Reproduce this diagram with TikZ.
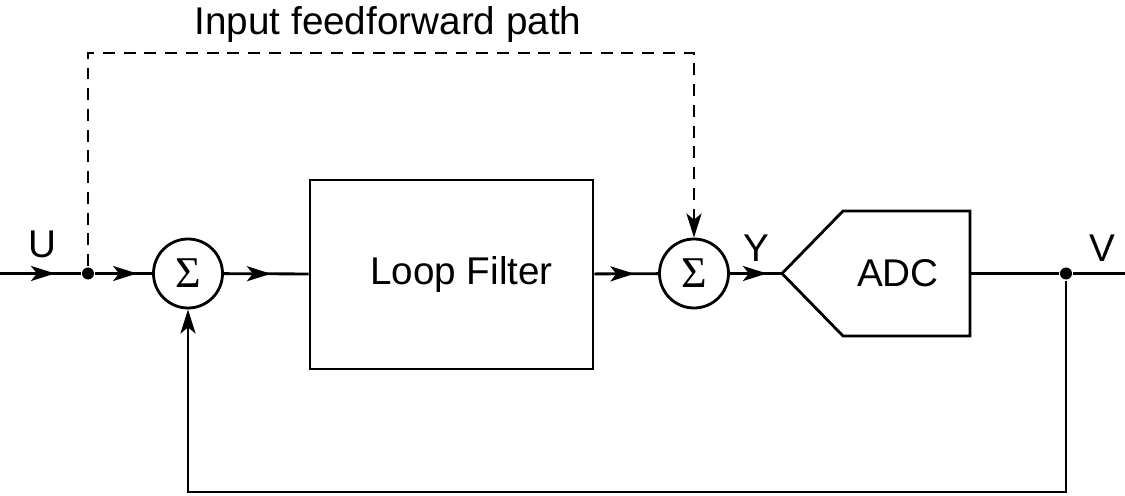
\documentclass[tikz,border=0pt]{standalone}
\usepackage{fontspec}
\setmainfont{Liberation Sans}
\newfontfamily\sigmafont{Liberation Serif}
\usetikzlibrary{arrows.meta,positioning,calc,decorations.markings}

\begin{document}
\begin{tikzpicture}[>={Stealth[length=0.48cm,width=0.3cm,inset=0.12cm]},line width=1.6pt,font=\fontsize{22}{26}\selectfont,
  midarrow/.style={postaction={decorate},decoration={markings,mark=at position #1 with {\arrow{>}}}}]
\tikzstyle{sumnode}=[draw,circle,minimum size=1.38cm,inner sep=0pt,font=\sigmafont\fontsize{25}{28}\selectfont]
\tikzstyle{blk}=[draw,minimum width=5.66cm,minimum height=3.78cm]
\tikzstyle{dot}=[circle,fill,inner sep=0pt,minimum size=0.24cm]
\tikzstyle{lbl}=[anchor=base,inner sep=0pt]
\useasboundingbox (0,0) rectangle (22.5,9.9);
\coordinate (uin) at (0,4.43);
\node[dot] (udot) at (1.76,4.43) {};
\node[sumnode] (s1) at (3.76,4.43) {Σ};
\node[blk] (lf) at (9.03,4.41) {\hspace*{0.4cm}Loop Filter};
\node[sumnode] (s2) at (13.88,4.43) {Σ};
\coordinate (adcin) at (15.64,4.43);
\coordinate (adcout) at (19.4,4.43);
\node (adc) at (17.96,4.43) {ADC};
\draw (adcin) -- (16.86,5.68) -- (19.4,5.68) -- (19.4,3.18) -- (16.86,3.18) -- cycle;
\node[dot] (vdot) at (21.32,4.43) {};
\coordinate (vout) at (22.5,4.43);
\coordinate (fb) at (11,0.06);
\coordinate (ff) at (8,8.84);
% labels
\node[lbl] (ulbl) at (0.84,4.74) {U};
\node[lbl] (ylbl) at (15.12,4.66) {Y};
\node[lbl] (vlbl) at (22.04,4.66) {V};
\node[lbl] (fflbl) at (7.76,9.2) {Input feedforward path};
% forward path
\draw[midarrow=1.1cm] (uin) -- (udot);
\draw[midarrow=-0.3cm] (udot) -- (s1);
\draw[midarrow=0.94cm] (s1) -- (lf);
\draw[midarrow=0.8cm] (lf) -- (s2);
\draw[midarrow=0.74cm] (s2) -- (adcin);
\draw (adcout) -- (vdot) -- (vout);
% feedback and feedforward
\draw[->] (vdot) |- (fb) -| (s1);
\draw[->,dash pattern=on 6.8pt off 5pt] (udot) |- (ff) -| (s2);
\end{tikzpicture}
\end{document}
